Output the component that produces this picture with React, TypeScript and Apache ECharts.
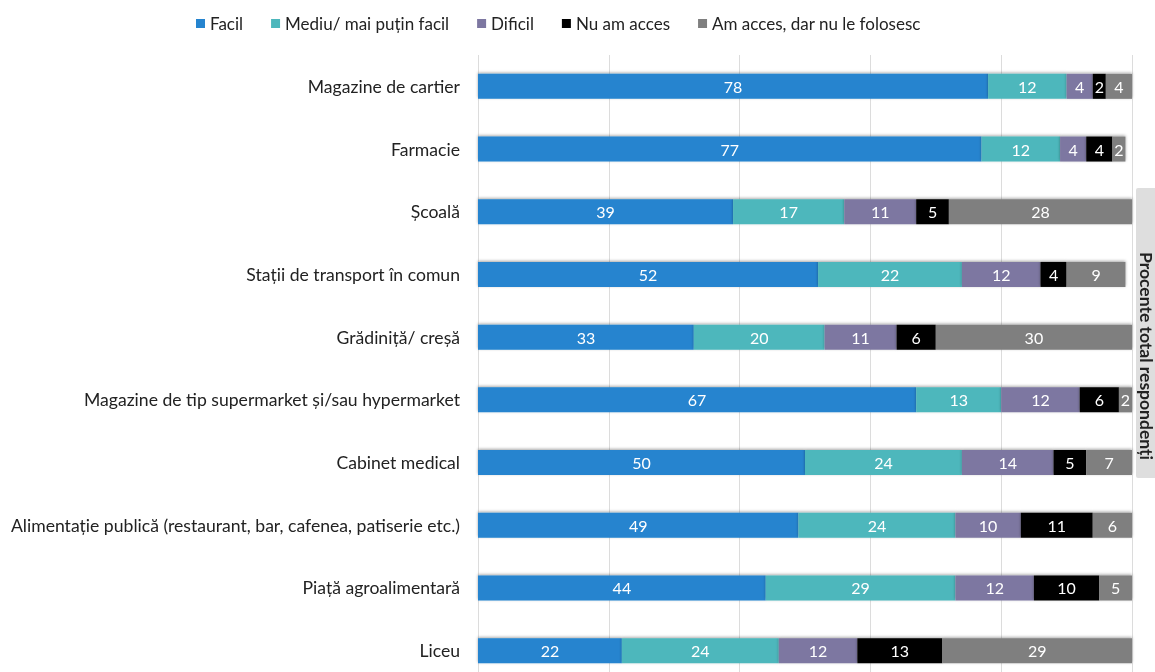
import React, { useEffect, useRef } from "react";
import * as echarts from "echarts";

const categories = [
  "Magazine de cartier",
  "Farmacie",
  "Școală",
  "Stații de transport în comun",
  "Grădiniță/ creșă",
  "Magazine de tip supermarket și/sau hypermarket",
  "Cabinet medical",
  "Alimentație publică (restaurant, bar, cafenea, patiserie etc.)",
  "Piață agroalimentară",
  "Liceu",
];

const seriesNames = [
  "Facil",
  "Mediu/ mai puțin facil",
  "Dificil",
  "Nu am acces",
  "Am acces, dar nu le folosesc",
];

const facil = [78, 77, 39, 52, 33, 67, 50, 49, 44, 22];
const mediu = [12, 12, 17, 22, 20, 13, 24, 24, 29, 24];
const dificil = [4, 4, 11, 12, 11, 12, 14, 10, 12, 12];
const nuAmAcces = [2, 4, 5, 4, 6, 6, 5, 11, 10, 13];
const amAccesNu = [4, 2, 28, 9, 30, 2, 7, 6, 5, 29];

const colors = ["#2584cf", "#4db7bc", "#7d77a1", "#000000", "#7f7f7f"];
const sideLabel = "Procente total respondenți";

export default function App() {
  const ref = useRef<HTMLDivElement>(null);
  useEffect(() => {
    const chart = echarts.init(ref.current!, null, { renderer: "svg" });
    const values = [facil, mediu, dificil, nuAmAcces, amAccesNu];
    chart.setOption({
      animation: false,
      legend: {
        top: 10,
        left: 191,
        itemWidth: 9,
        itemHeight: 9,
        itemGap: 28,
        icon: "rect",
        textStyle: { fontFamily: "Lato", fontSize: 17, color: "#222" },
        data: seriesNames,
      },
      grid: { left: 478, right: 23, top: 55, height: 627, containLabel: false },
      xAxis: {
        type: "value",
        min: 0,
        max: 100,
        interval: 20,
        axisLabel: { show: false },
        axisLine: { show: false },
        axisTick: { show: false },
        splitLine: { lineStyle: { color: "#dcdcdc", width: 1 } },
      },
      yAxis: {
        type: "category",
        inverse: true,
        data: categories,
        axisLine: { show: false },
        axisTick: { show: false },
        axisLabel: {
          margin: 18,
          fontFamily: "Lato",
          fontSize: 17.6,
          color: "#222",
        },
      },
      series: seriesNames.map((name, i) => ({
        name,
        type: "bar",
        stack: "total",
        barWidth: 25,
        data: values[i],
        itemStyle: {
          color: colors[i],
          shadowBlur: 3,
          shadowColor: "rgba(0,0,0,0.35)",
          shadowOffsetY: -1,
        },
        label: {
          show: true,
          position: "inside",
          color: "#fff",
          fontFamily: "Lato",
          fontSize: 16,
        },
      })),
      graphic: [
        {
          type: "rect",
          shape: { x: 1136, y: 188, width: 24, height: 290, r: 2 },
          style: { fill: "#dedede" },
        },
        {
          type: "text",
          x: 1146,
          y: 356,
          rotation: -Math.PI / 2,
          style: {
            text: sideLabel,
            fontFamily: "Lato",
            fontSize: 17.5,
            fontWeight: "bold",
            fill: "#222",
            align: "center",
            verticalAlign: "middle",
          },
        },
      ],
    });
    return () => chart.dispose();
  }, []);
  return (
    <div
      ref={ref}
      style={{ position: "fixed", left: 0, top: 0, width: 1155, height: 700 }}
    />
  );
}
